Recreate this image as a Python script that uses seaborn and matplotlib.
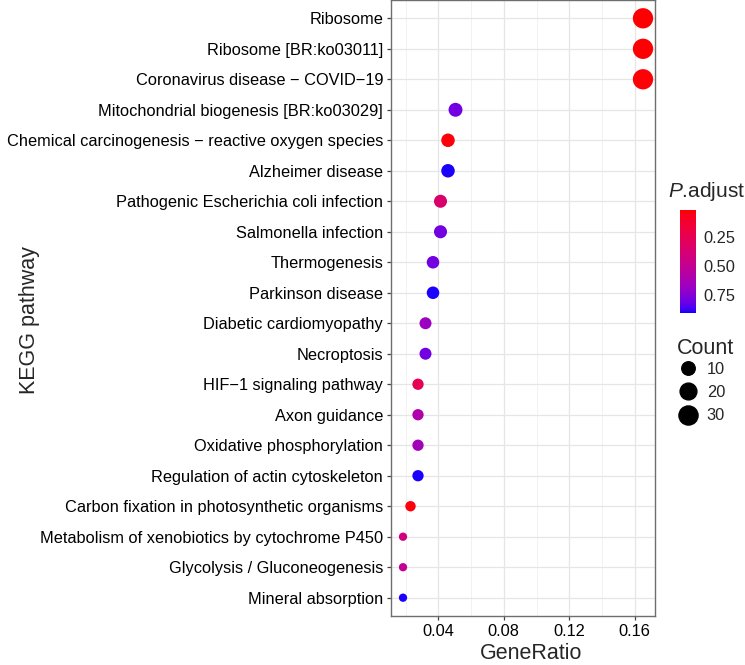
import numpy as np
import pandas as pd
import matplotlib
matplotlib.use("Agg")
import matplotlib.pyplot as plt
import seaborn as sns
from matplotlib.colors import ListedColormap, Normalize
from matplotlib.cm import ScalarMappable
from matplotlib.lines import Line2D
from matplotlib.ticker import MultipleLocator

# data (top row first)
pathways = [
    "Ribosome",
    "Ribosome [BR:ko03011]",
    "Coronavirus disease \u2212 COVID\u221219",
    "Mitochondrial biogenesis [BR:ko03029]",
    "Chemical carcinogenesis \u2212 reactive oxygen species",
    "Alzheimer disease",
    "Pathogenic Escherichia coli infection",
    "Salmonella infection",
    "Thermogenesis",
    "Parkinson disease",
    "Diabetic cardiomyopathy",
    "Necroptosis",
    "HIF\u22121 signaling pathway",
    "Axon guidance",
    "Oxidative phosphorylation",
    "Regulation of actin cytoskeleton",
    "Carbon fixation in photosynthetic organisms",
    "Metabolism of xenobiotics by cytochrome P450",
    "Glycolysis / Gluconeogenesis",
    "Mineral absorption",
]
counts = [36, 36, 36, 11, 10, 10, 9, 9, 8, 8, 7, 7, 6, 6, 6, 6, 5, 4, 4, 4]
total_genes = 218
p_adjust = [0.015, 0.015, 0.02, 0.80, 0.03, 0.90, 0.35, 0.80, 0.80, 0.90,
            0.68, 0.80, 0.25, 0.60, 0.65, 0.90, 0.03, 0.42, 0.50, 0.90]
padj_limits = (0.01, 0.91)
count_breaks = [10, 20, 30]

df = pd.DataFrame({"Description": pathways, "Count": counts, "p.adjust": p_adjust})
df["GeneRatio"] = df["Count"] / total_genes


# ggplot-like red -> blue gradient, interpolated in Lab space
M = np.array([[0.4124, 0.3576, 0.1805], [0.2126, 0.7152, 0.0722], [0.0193, 0.1192, 0.9505]])
WHITE = np.array([0.95047, 1.0, 1.08883])


def to_lab(c):
    c = np.asarray(c, float)
    lin = np.where(c <= 0.04045, c / 12.92, ((c + 0.055) / 1.055) ** 2.4)
    xyz = M @ lin / WHITE
    f = np.where(xyz > (6 / 29) ** 3, np.cbrt(xyz), xyz / (3 * (6 / 29) ** 2) + 4 / 29)
    return np.array([116 * f[1] - 16, 500 * (f[0] - f[1]), 200 * (f[1] - f[2])])


def from_lab(lab):
    L, a, b = lab
    fy = (L + 16) / 116
    f = np.array([fy + a / 500, fy, fy - b / 200])
    xyz = np.where(f > 6 / 29, f ** 3, 3 * (6 / 29) ** 2 * (f - 4 / 29)) * WHITE
    lin = np.clip(np.linalg.inv(M) @ xyz, 0, 1)
    c = np.where(lin <= 0.0031308, 12.92 * lin, 1.055 * lin ** (1 / 2.4) - 0.055)
    return np.clip(c, 0, 1)


lab_lo, lab_hi = to_lab([1, 0, 0]), to_lab([0, 0, 1])
cmap = ListedColormap([from_lab(lab_lo + t * (lab_hi - lab_lo)) for t in np.linspace(0, 1, 256)])


# point size: ggplot scale_size style (diameter ~ sqrt of rescaled count)
dpi = 100
W, H = 745, 665
cmin, cmax = min(counts), max(counts)


def size_pt2(c):
    d_px = 8.3 + 12.0 * np.sqrt((c - cmin) / (cmax - cmin))
    return (d_px * 72 / dpi) ** 2


size_map = {c: size_pt2(c) for c in sorted(set(counts))}

sns.set_theme(style="white")
plt.rcParams["font.family"] = ["Liberation Sans", "DejaVu Sans"]
plt.rcParams["mathtext.fontset"] = "custom"
plt.rcParams["mathtext.it"] = "Liberation Sans:italic"
plt.rcParams["mathtext.rm"] = "Liberation Sans"

fig = plt.figure(figsize=(W / dpi, H / dpi), dpi=dpi)
ax = fig.add_axes([391 / W, 1 - 616 / H, 264 / W, 616 / H])

sns.scatterplot(data=df, x="GeneRatio", y="Description", hue="p.adjust", palette=cmap,
                hue_norm=padj_limits, size="Count", sizes=size_map, linewidth=0,
                legend=False, ax=ax, zorder=3)

# axis limits like ggplot expansion
xr = df["GeneRatio"].max() - df["GeneRatio"].min()
ax.set_xlim(df["GeneRatio"].min() - 0.05 * xr, df["GeneRatio"].max() + 0.05 * xr)
ax.set_ylim(len(pathways) - 0.4, -0.6)

ax.xaxis.set_major_locator(MultipleLocator(0.04))
ax.xaxis.set_minor_locator(MultipleLocator(0.02))
ax.set_xticks([0.04, 0.08, 0.12, 0.16])
ax.set_xticklabels(["0.04", "0.08", "0.12", "0.16"])
ax.grid(True, which="major", color="#e6e6e6", linewidth=0.9, zorder=0)
ax.grid(True, which="minor", axis="x", color="#f0f0f0", linewidth=0.6, zorder=0)
ax.set_axisbelow(True)
for s in ax.spines.values():
    s.set_color("#6e6e6e")
    s.set_linewidth(1.0)
ax.tick_params(axis="both", which="major", length=2.75, width=0.9, color="#444444",
               labelsize=11.8, labelcolor="black", pad=3, bottom=True, left=True)
ax.tick_params(axis="x", which="minor", length=0)
ax.set_xlabel("")
ax.set_ylabel("")
fig.text(531 / W, 1 - 659 / H, "GeneRatio", fontsize=15.5, ha="center", va="baseline")
fig.text(30 / W, 1 - 320 / H, "KEGG pathway", fontsize=15.5, rotation=90,
         ha="center", va="center")

# colour bar for P.adjust (low values at top)
cax = fig.add_axes([680 / W, 1 - 313 / H, 16 / W, 103 / H])
sm = ScalarMappable(norm=Normalize(*padj_limits), cmap=cmap)
cb = fig.colorbar(sm, cax=cax)
cb.outline.set_visible(False)
cax.invert_yaxis()
cb.set_ticks([0.25, 0.50, 0.75])
cb.set_ticklabels(["0.25", "0.50", "0.75"])
cax.tick_params(length=3, width=0.8, color="white", direction="in", labelsize=11.8, pad=5)
fig.text(668 / W, 1 - 197 / H, r"$\it{P}$.adjust", fontsize=15, ha="left", va="baseline")

# Count legend
fig.text(677 / W, 1 - 354 / H, "Count", fontsize=15.5, ha="left", va="baseline")
handles = [Line2D([], [], marker="o", linestyle="", color="black",
                  markersize=np.sqrt(size_pt2(c))) for c in count_breaks]
leg = fig.legend(handles, [str(c) for c in count_breaks],
                 loc="upper left", bbox_to_anchor=(678 / W, 1 - 362 / H), frameon=False,
                 fontsize=11.8, handletextpad=0.55, labelspacing=0.5,
                 borderaxespad=0, borderpad=0, handlelength=1.2)

fig.savefig("out.png", dpi=dpi)
